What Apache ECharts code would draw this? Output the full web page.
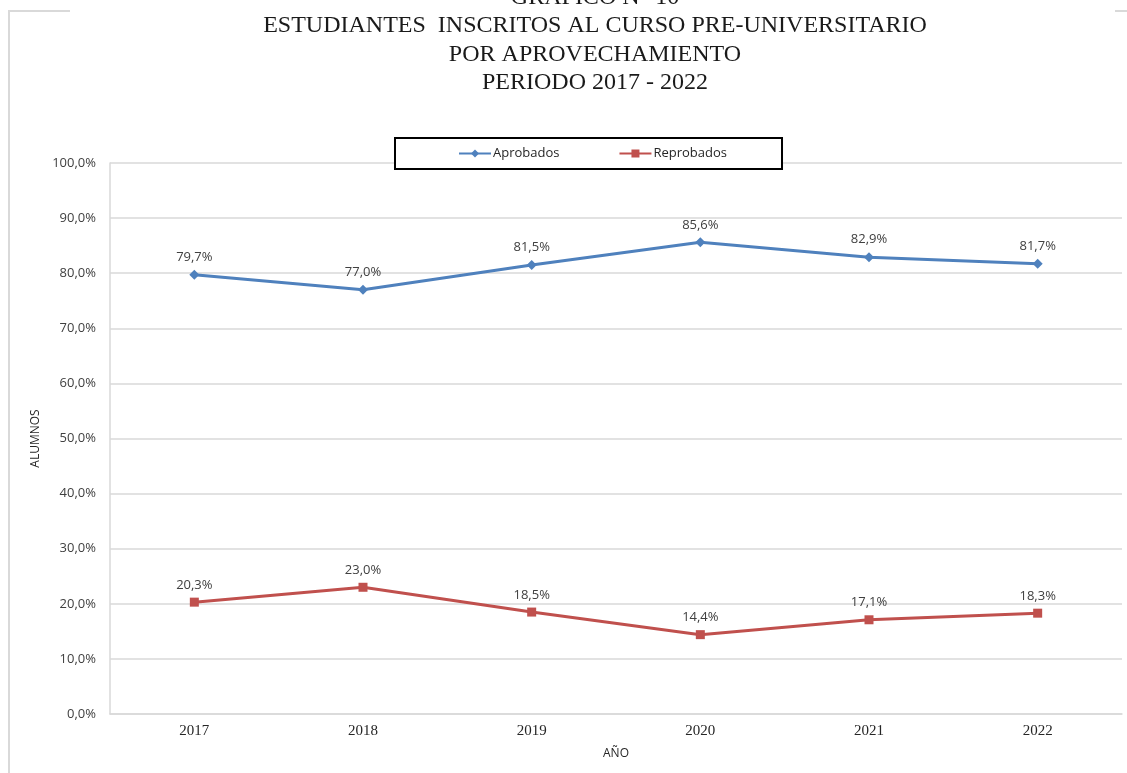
<!DOCTYPE html>
<html>
<head>
<meta charset="utf-8">
<script src="https://cdn.jsdelivr.net/npm/echarts@6/dist/echarts.min.js"></script>
<style>
  html, body { margin: 0; padding: 0; background: #fff; }
  #chart { width: 1127px; height: 773px; }
</style>
</head>
<body>
<div id="chart"></div>
<script>
const years = ['2017', '2018', '2019', '2020', '2021', '2022']
const aprobados = [79.7, 77.0, 81.5, 85.6, 82.9, 81.7]
const reprobados = [20.3, 23.0, 18.5, 14.4, 17.1, 18.3]
const titleLines = [
  'GRAFICO N° 10',
  'ESTUDIANTES  INSCRITOS AL CURSO PRE-UNIVERSITARIO',
  'POR APROVECHAMIENTO',
  'PERIODO 2017 - 2022'
]

const pct = v => v.toFixed(1).replace('.', ',') + '%'
const sans = '"Open Sans", "Noto Sans", sans-serif'

const chart = echarts.init(document.getElementById('chart'))

const labelStyle = {
  show: true,
  position: 'top',
  distance: 6,
  fontFamily: sans,
  fontSize: 13,
  color: '#404040',
  formatter: p => pct(p.value)
}

chart.setOption({
  animation: false,
  backgroundColor: '#fff',
  title: {
    text: titleLines.join('\n'),
    left: 590,
    textAlign: 'center',
    top: -22,
    textStyle: {
      fontFamily: '"Liberation Serif", "Times New Roman", serif',
      fontWeight: 'normal',
      fontSize: 24,
      lineHeight: 28.5,
      color: '#1a1a1a'
    }
  },
  graphic: [
    {
      type: 'polyline',
      silent: true,
      shape: { points: [[70, 11], [9, 11], [9, 773]] },
      style: { stroke: '#d9d9d9', lineWidth: 2, fill: null }
    },
    {
      type: 'line',
      silent: true,
      shape: { x1: 1115, y1: 11, x2: 1127, y2: 11 },
      style: { stroke: '#d9d9d9', lineWidth: 2 }
    }
  ],
  legend: {
    left: 395,
    top: 138,
    padding: [9, 55, 9, 63],
    borderColor: '#000',
    borderWidth: 2,
    backgroundColor: '#fff',
    itemWidth: 32,
    itemHeight: 10,
    itemGap: 59,
    textStyle: { fontFamily: sans, fontSize: 13, color: '#262626', padding: [0, 0, 0, -3] },
    data: ['Aprobados', 'Reprobados']
  },
  grid: {
    left: 110,
    right: 5,
    top: 163,
    bottom: 59,
    containLabel: false
  },
  xAxis: {
    type: 'category',
    data: years,
    boundaryGap: true,
    name: 'AÑO',
    nameLocation: 'middle',
    nameGap: 34,
    nameTextStyle: { fontFamily: sans, fontSize: 12, color: '#262626' },
    axisLine: { lineStyle: { color: '#d9d9d9', width: 1.5 } },
    axisTick: { show: false },
    axisLabel: {
      margin: 10,
      fontFamily: '"Liberation Serif", "Times New Roman", serif',
      fontSize: 15,
      color: '#262626'
    }
  },
  yAxis: {
    type: 'value',
    min: 0,
    max: 100,
    interval: 10,
    name: 'ALUMNOS',
    nameLocation: 'middle',
    nameGap: 65,
    nameRotate: 90,
    nameTextStyle: { fontFamily: sans, fontSize: 12, color: '#262626' },
    axisLine: { show: true, lineStyle: { color: '#d9d9d9', width: 1.5 } },
    axisTick: { show: false },
    axisLabel: {
      margin: 14,
      fontFamily: sans,
      fontSize: 13,
      color: '#404040',
      formatter: v => pct(v)
    },
    splitLine: { lineStyle: { color: '#d9d9d9', width: 1.5 } }
  },
  series: [
    {
      name: 'Aprobados',
      type: 'line',
      data: aprobados,
      symbol: 'diamond',
      symbolSize: 10,
      lineStyle: { color: '#4f81bd', width: 3 },
      itemStyle: { color: '#4f81bd' },
      label: labelStyle
    },
    {
      name: 'Reprobados',
      type: 'line',
      data: reprobados,
      symbol: 'rect',
      symbolSize: 9,
      lineStyle: { color: '#c0504d', width: 3 },
      itemStyle: { color: '#c0504d' },
      label: labelStyle
    }
  ]
})
</script>
</body>
</html>
